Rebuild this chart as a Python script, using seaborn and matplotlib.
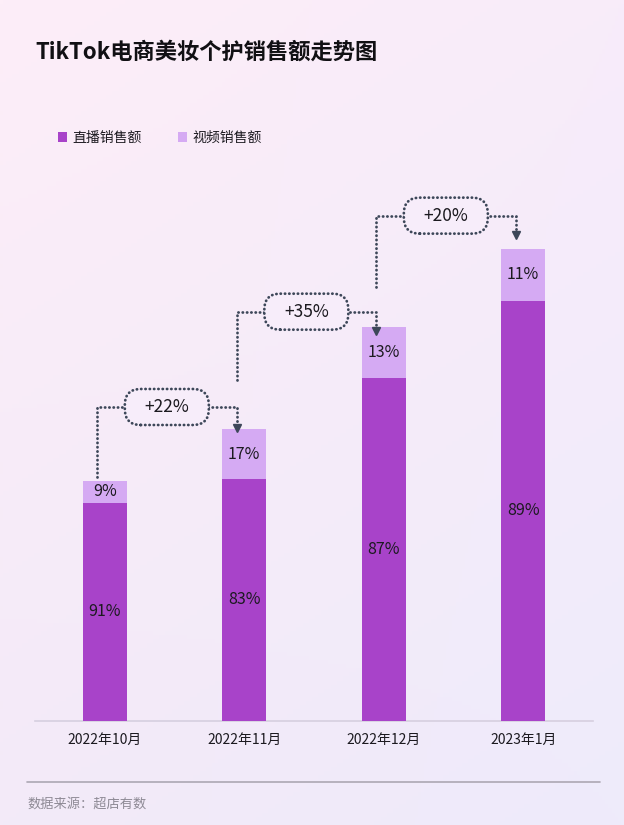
import numpy as np
import pandas as pd
import matplotlib
matplotlib.use("Agg")
import matplotlib.pyplot as plt
import seaborn as sns
from matplotlib.patches import FancyBboxPatch, Patch
from matplotlib.lines import Line2D
from matplotlib.transforms import IdentityTransform

# ---------------- data ----------------
months = ["2022年10月", "2022年11月", "2022年12月", "2023年1月"]
total_sales = [100, 121.6, 164.5, 197]          # relative index (Oct 2022 = 100)
live_pct = [91, 83, 87, 89]                     # 直播销售额 share
video_pct = [9, 17, 13, 11]                     # 视频销售额 share
growth_labels = ["+22%", "+35%", "+20%"]
series_names = ["直播销售额", "视频销售额"]
title = "TikTok电商美妆个护销售额走势图"
source = "数据来源：超店有数"

# connector layout (data units)
conn_start = [101.7, 142.2, 181.1]
conn_level = [130.9, 170.7, 210.8]
arrow_tip = [120.2, 161.0, 201.0]

# ---------------- style ----------------
sns.set_style("white")
plt.rcParams["font.family"] = ["Noto Sans CJK SC", "DejaVu Sans"]

DARK = "#a843c9"
LIGHT = "#d5aaf3"
TEXT = "#1c1a20"
DOT = "#3d4759"

W, H = 624, 825
fig = plt.figure(figsize=(W / 100, H / 100), dpi=100)

# background gradient
bg = fig.add_axes([0, 0, 1, 1], zorder=-10)
tl = np.array([253, 238, 248]) / 255
tr = np.array([248, 236, 250]) / 255
bl = np.array([243, 234, 248]) / 255
br = np.array([238, 235, 251]) / 255
n = 200
u = np.linspace(0, 1, n)[None, :, None]
v = np.linspace(0, 1, n)[:, None, None]
img = (1 - v) * ((1 - u) * tl + u * tr) + v * ((1 - u) * bl + u * br)
bg.imshow(img, aspect="auto", extent=[0, 1, 0, 1], origin="upper")
bg.set_axis_off()

# main axes
px_per_unit = 2.395
base_px = 720.5
top_px = 150
ax = fig.add_axes([35 / W, 1 - base_px / H, 558 / W, (base_px - top_px) / H])
ax.set_facecolor("none")

df = pd.DataFrame({
    "month": months,
    "total": total_sales,
    "live": [t * p / 100 for t, p in zip(total_sales, live_pct)],
    "video": [t * p / 100 for t, p in zip(total_sales, video_pct)],
})

sns.barplot(data=df, x="month", y="total", color=LIGHT, saturation=1,
            width=0.315, ax=ax, zorder=2, edgecolor="none", linewidth=0)
sns.barplot(data=df, x="month", y="live", color=DARK, saturation=1,
            width=0.315, ax=ax, zorder=3, edgecolor="none", linewidth=0)

ax.set_xlim(-0.5, len(months) - 0.5)
ax.set_ylim(0, (base_px - top_px) / px_per_unit)
ax.set_xlabel("")
ax.set_ylabel("")
ax.set_yticks([])
for s in ["left", "right", "top"]:
    ax.spines[s].set_visible(False)
ax.spines["bottom"].set_color("#d6cfdf")
ax.spines["bottom"].set_linewidth(1.2)
ax.tick_params(axis="x", which="major", length=0, pad=9, labelsize=10,
               labelcolor=TEXT)
ax.set_xticks(np.arange(-0.5, len(months)), minor=True)
ax.tick_params(axis="x", which="minor", length=4, width=1.2, color="#d6cfdf",
               direction="out")

# segment labels
for i in range(len(months)):
    lv = df["live"][i]
    vd = df["video"][i]
    ax.text(i, lv / 2, f"{live_pct[i]}%", ha="center", va="center",
            fontsize=11.5, color=TEXT, zorder=5)
    ax.text(i, lv + vd / 2, f"{video_pct[i]}%", ha="center", va="center",
            fontsize=11.5, color=TEXT, zorder=5)

# connectors
off = -0.055
DASH = (0, (0.1, 1.45))
dot_style = dict(color=DOT, lw=2.0, linestyle=DASH,
                 dash_capstyle="round", zorder=6, clip_on=False)
arrow_half = 4.2 / px_per_unit
fig.canvas.draw()
for k in range(len(months) - 1):
    x0 = k + off
    x1 = k + 1 + off
    yl = conn_level[k]
    ax.plot([x0, x0, x1, x1], [conn_start[k], yl, yl, arrow_tip[k] + 2 * arrow_half],
            **dot_style)
    ax.plot([x1], [arrow_tip[k] + arrow_half], marker="v", ms=6.4, color=DOT,
            mec=DOT, zorder=7, clip_on=False)
    xc = (x0 + x1) / 2
    px, py = ax.transData.transform((xc, yl))
    bw, bh = 84, 36
    box = FancyBboxPatch((px - bw / 2, py - bh / 2), bw, bh,
                         boxstyle="round,pad=0,rounding_size=16",
                         transform=IdentityTransform(),
                         facecolor=(0.97, 0.93, 0.98, 1), edgecolor=DOT,
                         linewidth=2.0, linestyle=DASH,
                         capstyle="round", zorder=8)
    fig.add_artist(box)
    fig.text(px / W, py / H, growth_labels[k], ha="center", va="center",
             fontsize=12.5, color=TEXT, zorder=9)

# title
fig.text(35 / W, 1 - 52.5 / H, title, ha="left", va="center",
         fontsize=16, fontweight="heavy", color="#111014")

# legend
handles = [Patch(facecolor=DARK, edgecolor="none"),
           Patch(facecolor=LIGHT, edgecolor="none")]
fig.legend(handles, series_names, loc="center left",
           bbox_to_anchor=(58 / W, 1 - 138 / H), ncol=2, frameon=False,
           fontsize=10, handlelength=0.65, handleheight=0.65,
           handletextpad=0.4, columnspacing=2.6, borderpad=0,
           borderaxespad=0, labelcolor=TEXT)

# footer
fig.add_artist(Line2D([27 / W, 600 / W], [1 - 782 / H, 1 - 782 / H],
                      transform=fig.transFigure, color="#aca7b3", lw=1.2))
fig.text(27 / W, 1 - 804 / H, source, ha="left", va="center",
         fontsize=9.5, color="#8e8a95")

fig.savefig("out.png", dpi=100)
